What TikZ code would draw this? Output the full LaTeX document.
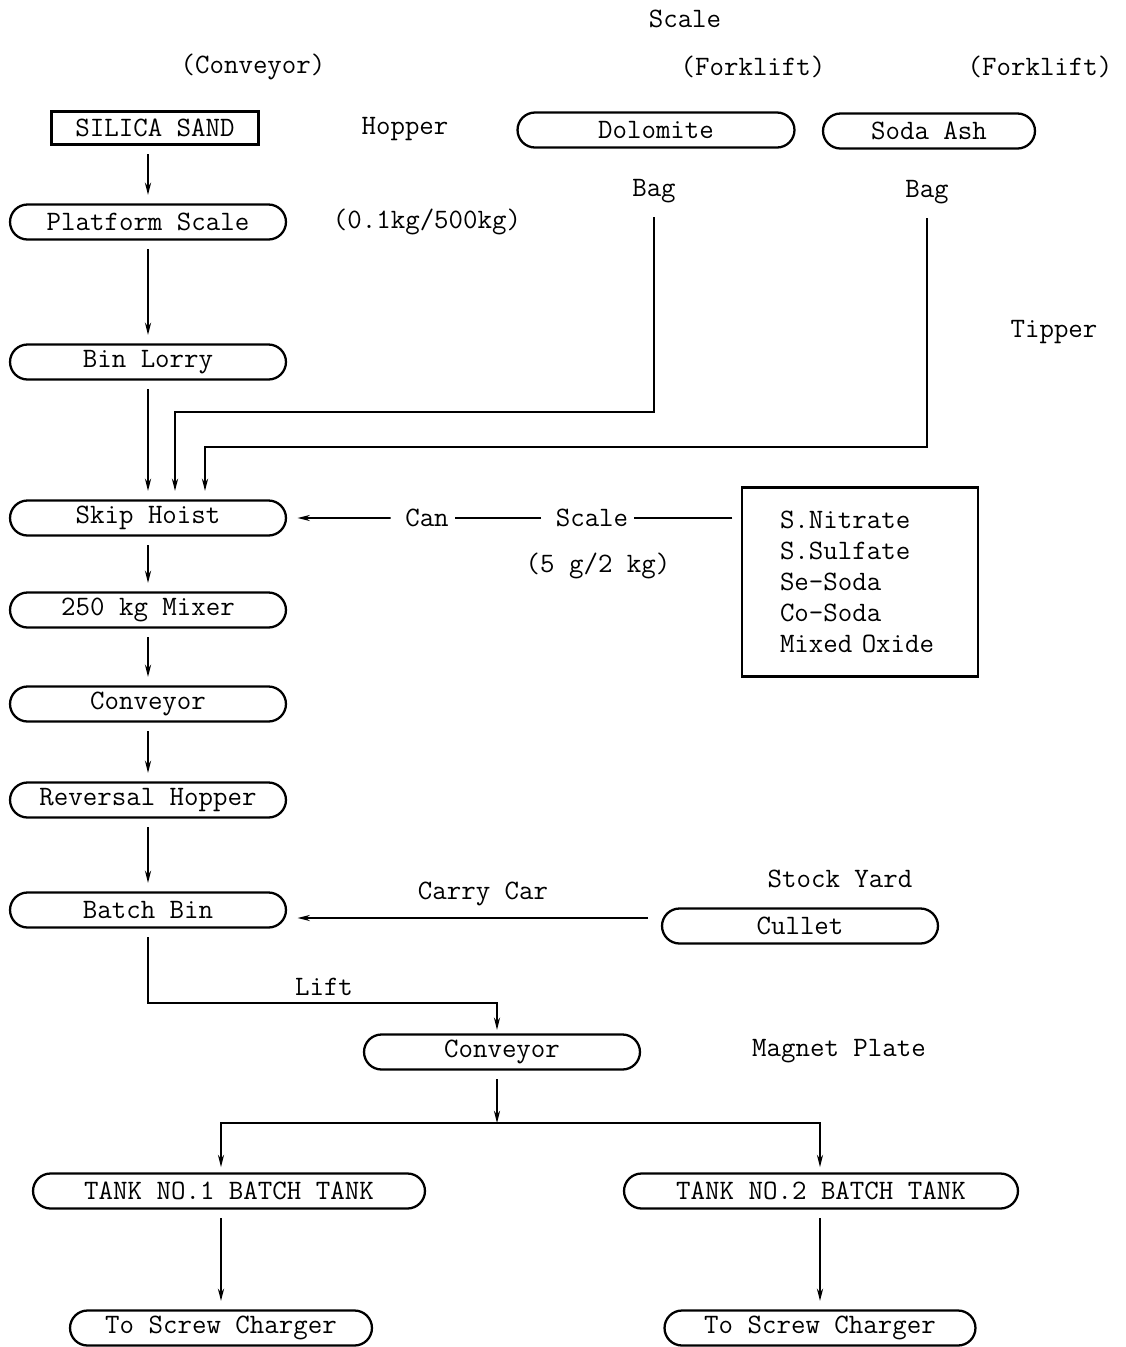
\documentclass[tikz,border=0pt]{standalone}
\usepackage{fontspec}
\usepackage{tikz}
\usetikzlibrary{arrows.meta,positioning,calc,shapes.misc}

\begin{document}
\begin{tikzpicture}[x=0.02cm, y=-0.02cm, >={Stealth[length=7pt,width=3.5pt]},
    every node/.style={font=\ttfamily\fontsize{16}{17.6}\selectfont},
    unit/.style={rounded rectangle, draw, line width=1.3pt, minimum width=5.52cm, minimum height=0.7cm, inner sep=0pt},
    flow/.style={line width=0.9pt, shorten <=8pt*0.6}]
  \useasboundingbox (0,0) rectangle (1126,1347);
  % raw materials
  \node[draw, line width=1.3pt, minimum width=4.14cm, minimum height=0.66cm, inner sep=0pt] (sand) at (155,128) {SILICA SAND};
  \node[unit, minimum width=5.54cm] (dolo) at (656,130) {Dolomite};
  \node[unit, minimum width=4.24cm] (soda) at (929,131) {Soda Ash};
  \node (scaleT) at (685,19) {Scale};
  \node (convT) at (253,67) {(Conveyor)};
  \node (forkA) at (753,67) {(Forklift)};
  \node (forkB) at (1040,67) {(Forklift)};
  \node (hopper) at (405,129) {Hopper};
  \node (rangeA) at (427,222) {(0.1kg/500kg)};
  \node (bagA) at (654,191) {Bag};
  \node (bagB) at (927,192) {Bag};
  \node (tipper) at (1054,332) {Tipper};
  % main line
  \node[unit] (plat) at (148,222) {Platform Scale};
  \node[unit] (lorry) at (148,362) {Bin Lorry};
  \node[unit] (skip) at (148,518) {Skip Hoist};
  \node[unit] (mixer) at (148,610) {250 kg Mixer};
  \node[unit] (conv) at (148,704) {Conveyor};
  \node[unit] (rev) at (148,800) {Reversal Hopper};
  \node[unit] (bbin) at (148,910) {Batch Bin};
  % minor materials
  \node (can) at (427,518) {Can};
  \node (scaleM) at (592,518) {Scale};
  \node (rangeB) at (598,566) {(5 g/2 kg)};
  \node[draw, line width=1.3pt, minimum width=4.72cm, minimum height=3.78cm, text width=3.2cm,
        inner xsep=0.76cm, align=left] (minor) at (860,582)
        {S.Nitrate\\S.Sulfate\\Se-Soda\\Co-Soda\\Mixed Oxide};
  % cullet
  \node (stock) at (840,879) {Stock Yard};
  \node (carry) at (483,894) {Carry Car};
  \node[unit] (cullet) at (800,926) {Cullet};
  % to the tanks
  \node (lift) at (324,987) {Lift};
  \node[unit] (conv2) at (502,1052) {Conveyor};
  \node (magnet) at (839,1051) {Magnet Plate};
  \node[unit, minimum width=7.84cm] (tank1) at (229,1191) {TANK NO.1 BATCH TANK};
  \node[unit, minimum width=7.88cm] (tank2) at (821,1191) {TANK NO.2 BATCH TANK};
  \node[unit, minimum width=6.04cm] (scr1) at (221,1328) {To Screw Charger};
  \node[unit, minimum width=6.22cm] (scr2) at (820,1328) {To Screw Charger};
  \coordinate (jA) at (175,412);
  \coordinate (jB) at (205,447);
  \coordinate (cullIn) at (648,918);
  \coordinate (split) at (497,1123);

  \draw[flow, ->, shorten >=8pt*0.6] (plat.north |- sand.south) -- (plat.north);
  \foreach \src/\dst in {plat/lorry, lorry/skip, skip/mixer, mixer/conv, conv/rev, rev/bbin} {
    \draw[flow, ->, shorten >=8pt*0.6] (\src) -- (\dst);
  }
  \draw[flow, ->, shorten >=8pt*0.6] (bagA.south) |- (jA) -- (jA |- skip.north);
  \draw[flow, ->, shorten >=8pt*0.6] (bagB.south) |- (jB) -- (jB |- skip.north);
  \draw[flow] (minor.west |- scaleM) -- (scaleM);
  \draw[flow] (scaleM) -- (can);
  \draw[flow, ->, shorten >=6pt] (can) -- (skip);
  \draw[flow, ->, shorten <=0pt, shorten >=6pt] (cullIn) -- (cullIn -| bbin.east);
  \draw[flow, ->, shorten >=2pt] (bbin.south) |- ($(split)+(0,-120)$) -- (split |- conv2.north);
  \draw[flow, ->, shorten >=0pt] (split |- conv2.south) -- (split);
  \draw[flow, ->, shorten <=0pt, shorten >=3pt] (split) -| (scr1.north |- tank1.north);
  \draw[flow, ->, shorten <=0pt, shorten >=3pt] (split) -| (scr2.north |- tank2.north);
  \draw[flow, ->, shorten >=8pt*0.6] (scr1.north |- tank1.south) -- (scr1.north);
  \draw[flow, ->, shorten >=8pt*0.6] (scr2.north |- tank2.south) -- (scr2.north);
\end{tikzpicture}
\end{document}
